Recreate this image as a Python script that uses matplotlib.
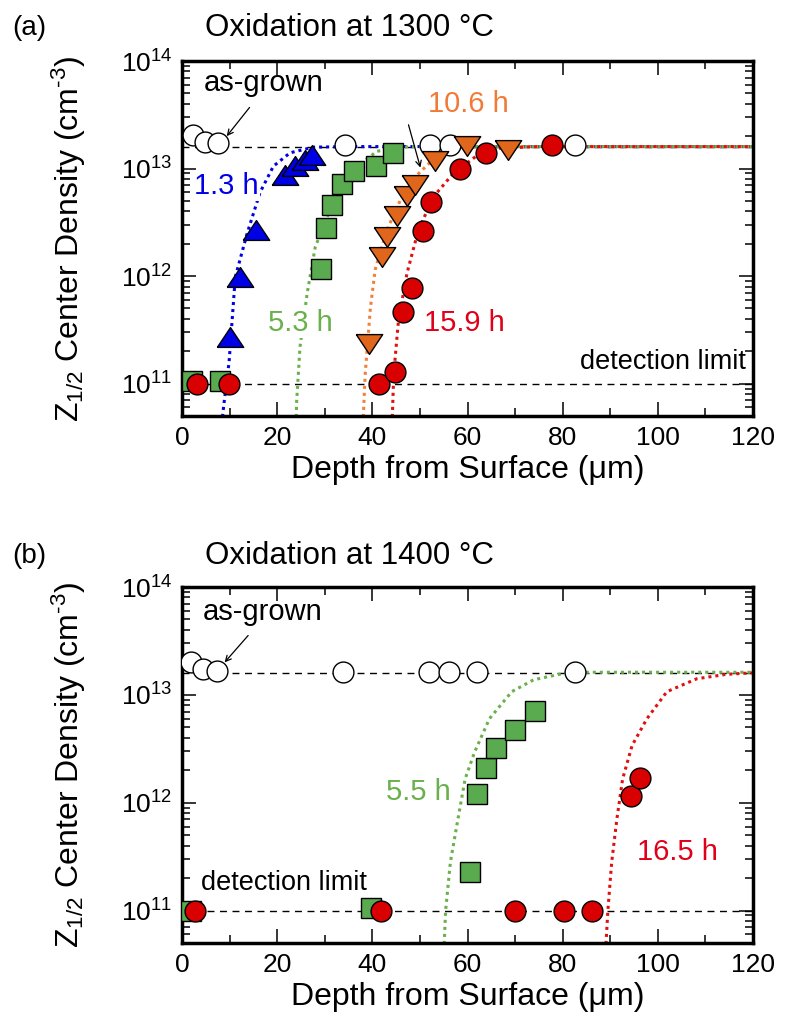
import numpy as np
import matplotlib
matplotlib.use('Agg')
import matplotlib.pyplot as plt
from matplotlib.ticker import LogLocator, MultipleLocator, NullFormatter

plt.rcParams['font.family'] = ['Liberation Sans', 'DejaVu Sans']
plt.rcParams['mathtext.fontset'] = 'custom'
plt.rcParams['mathtext.rm'] = 'Liberation Sans'
plt.rcParams['mathtext.it'] = 'Liberation Sans:italic'
plt.rcParams['mathtext.bf'] = 'Liberation Sans:bold'

# ---- data, panel (a): oxidation at 1300 C ----
grown_a_x = [2.3, 4.8, 7.6, 34.3, 52.2, 56.3, 82.6]
grown_a_y = [2.05e13, 1.78e13, 1.72e13, 1.65e13, 1.65e13, 1.65e13, 1.65e13]

h13_x = [10.0, 12.2, 15.6, 21.7, 23.8, 25.9, 27.4]
h13_y = [2.7e11, 9.8e11, 2.7e12, 8.8e12, 1.05e13, 1.2e13, 1.35e13]

h53_x = [2.0, 7.9, 29.3, 30.3, 31.5, 33.7, 36.1, 40.8, 44.3]
h53_y = [1.06e11, 1.06e11, 1.16e12, 2.8e12, 4.6e12, 7.2e12, 9.4e12, 1.06e13, 1.4e13]

h106_x = [39.2, 42.0, 43.1, 45.2, 47.3, 48.9, 53.1, 59.8, 68.6]
h106_y = [2.35e11, 1.52e12, 2.3e12, 3.6e12, 5.5e12, 7.1e12, 1.17e13, 1.63e13, 1.5e13]

h159_x = [3.1, 9.8, 41.3, 44.8, 46.4, 48.4, 50.6, 52.4, 58.4, 63.9, 77.7]
h159_y = [1.0e11, 1.0e11, 1.0e11, 1.27e11, 4.6e11, 7.8e11, 2.6e12, 4.9e12, 9.9e12, 1.4e13, 1.67e13]

# fitted profiles
fit13_x = [8.5, 8.9, 9.9, 11.2, 13.7, 16.4, 19.2, 22.7, 27.6, 35.0, 120]
fit13_y = [4.9e10, 7e10, 1.6e11, 9.8e11, 2.5e12, 6.0e12, 1.05e13, 1.4e13, 1.58e13, 1.6e13, 1.6e13]
fit53_x = [24.0, 24.1, 24.8, 26.3, 28.0, 30.5, 33.3, 36.8, 41.0, 48.0, 120]
fit53_y = [4.9e10, 6.9e10, 2.2e11, 6.9e11, 1.86e12, 3.55e12, 6.8e12, 1.05e13, 1.45e13, 1.6e13, 1.6e13]
fit106_x = [38.1, 38.5, 39.6, 40.6, 43.1, 45.9, 49.4, 53.6, 58.5, 65.0, 120]
fit106_y = [4.9e10, 1.23e11, 5.1e11, 1.15e12, 2.7e12, 5.1e12, 8.7e12, 1.32e13, 1.58e13, 1.6e13, 1.6e13]
fit159_x = [44.2, 44.5, 45.5, 47.3, 49.7, 52.9, 57.1, 62.0, 66.9, 75.0, 120]
fit159_y = [4.9e10, 1.23e11, 3.9e11, 1.07e12, 2.7e12, 5.5e12, 9.1e12, 1.32e13, 1.55e13, 1.6e13, 1.6e13]

# ---- data, panel (b): oxidation at 1400 C ----
grown_b_x = [1.9, 4.5, 7.4, 33.9, 52.0, 56.2, 61.9, 82.5]
grown_b_y = [2.02e13, 1.73e13, 1.66e13, 1.64e13, 1.64e13, 1.64e13, 1.64e13, 1.62e13]

h55_x = [1.9, 39.8, 60.5, 61.9, 63.8, 65.9, 70.0, 74.1]
h55_y = [1.0e11, 1.05e11, 2.3e11, 1.2e12, 2.1e12, 3.2e12, 4.7e12, 7.1e12]

h165_x = [2.7, 41.9, 70.0, 80.3, 86.2, 94.3, 96.3]
h165_y = [1.0e11, 1.0e11, 1.0e11, 1.0e11, 1.0e11, 1.15e12, 1.7e12]

fit55_x = [55.1, 55.4, 56.4, 58.0, 59.5, 61.5, 64.6, 69.3, 73.9, 80.2, 84.8, 120]
fit55_y = [4.9e10, 1.0e11, 2.8e11, 7.1e11, 1.66e12, 2.95e12, 6.0e12, 1.07e13, 1.38e13, 1.58e13, 1.62e13, 1.62e13]
fit165_x = [89.1, 89.5, 90.3, 91.4, 92.6, 94.6, 97.7, 101.9, 108.2, 114.4, 120]
fit165_y = [4.9e10, 1.0e11, 2.8e11, 7.1e11, 1.66e12, 3.4e12, 6.0e12, 1.07e13, 1.41e13, 1.55e13, 1.6e13]

as_grown_level = 1.6e13
detect_limit = 1.0e11

blue = '#0000e6'
green = '#5aab50'
orange = '#e0661c'
red = '#d80000'
txt_green = '#6ab04c'
txt_orange = '#f07a36'
txt_red = '#e0001a'

# wide, flat triangles like the original symbols
tri_up = [(-1, -0.75), (1, -0.75), (0, 0.75), (-1, -0.75)]
tri_down = [(-1, 0.75), (1, 0.75), (0, -0.75), (-1, 0.75)]

W, H = 785, 1023
fig = plt.figure(figsize=(W / 100, H / 100), dpi=100)
ax1 = fig.add_axes([182 / W, 1 - 416 / H, 571 / W, 355 / H])
ax2 = fig.add_axes([182 / W, 1 - 943 / H, 571 / W, 356 / H])


def style_axes(ax):
    ax.set_yscale('log')
    ax.set_xlim(0, 120)
    ax.set_ylim(5e10, 1e14)
    ax.xaxis.set_major_locator(MultipleLocator(20))
    ax.xaxis.set_minor_locator(MultipleLocator(10))
    ax.yaxis.set_major_locator(LogLocator(base=10, numticks=10))
    ax.yaxis.set_minor_locator(LogLocator(base=10, subs=np.arange(2, 10), numticks=20))
    ax.yaxis.set_minor_formatter(NullFormatter())
    ax.tick_params(which='both', direction='in', top=True, right=True, width=1.1)
    ax.tick_params(which='major', length=10, labelsize=19, pad=7)
    ax.tick_params(which='minor', length=6)
    for s in ax.spines.values():
        s.set_linewidth(2.5)
    ax.set_xlabel('Depth from Surface (μm)', fontsize=23, labelpad=4)
    ax.set_ylabel('Z$_{1/2}$ Center Density (cm$^{\\text{-}3}$)', fontsize=23)
    ax.yaxis.set_label_coords(-0.165, 0.5)
    ax.axhline(as_grown_level, color='k', lw=1.0, ls=(0, (5, 4)), zorder=1)
    ax.axhline(detect_limit, color='k', lw=1.0, ls=(0, (5, 4)), zorder=1)


style_axes(ax1)
style_axes(ax2)

mk = dict(ls='none', mec='k', mew=1.0, zorder=5)
fitkw = dict(ls=(0, (1, 1.3)), lw=2.2, zorder=2)
arrow = dict(arrowstyle='->', color='k', lw=0.9, shrinkA=0, shrinkB=0)
wb = dict(facecolor='white', edgecolor='none', pad=1)

# panel (a)
ax1.plot(fit13_x, fit13_y, color=blue, **fitkw)
ax1.plot(fit53_x, fit53_y, color=txt_green, **fitkw)
ax1.plot(fit106_x, fit106_y, color='#f0803a', **fitkw)
ax1.plot(fit159_x, fit159_y, color='#e01010', **fitkw)
ax1.plot(grown_a_x, grown_a_y, marker='o', ms=15, mfc='white', **mk)
ax1.plot(h53_x, h53_y, marker='s', ms=15, mfc=green, **mk)
ax1.plot(h13_x, h13_y, marker=tri_up, ms=19, mfc=blue, **mk)
ax1.plot(h106_x, h106_y, marker=tri_down, ms=19, mfc=orange, **mk)
ax1.plot(h159_x, h159_y, marker='o', ms=15, mfc=red, **mk)

ax1.text(17.1, 6.3e13, 'as-grown', fontsize=21, ha='center', va='center', zorder=6)
ax1.annotate('', xy=(9.4, 2.0e13), xytext=(14.2, 3.7e13), arrowprops=arrow, zorder=6)
ax1.text(60.2, 4.0e13, '10.6 h', fontsize=21, color=txt_orange, ha='center', va='center',
         zorder=6)
ax1.annotate('', xy=(50.1, 1.02e13), xytext=(47.6, 2.55e13), arrowprops=arrow, zorder=6)
ax1.text(9.3, 6.9e12, '1.3 h', color=blue, fontsize=21, ha='center', va='center',
         zorder=6, bbox=wb)
ax1.text(24.8, 3.7e11, '5.3 h', color=txt_green, fontsize=21, ha='center', va='center',
         zorder=6, bbox=wb)
ax1.text(59.4, 3.7e11, '15.9 h', color=txt_red, fontsize=21, ha='center', va='center',
         zorder=6)
ax1.text(118.5, 1.6e11, 'detection limit', fontsize=19.5, ha='right', va='center', zorder=6)

# panel (b)
ax2.plot(fit55_x, fit55_y, color=txt_green, **fitkw)
ax2.plot(fit165_x, fit165_y, color='#e01010', **fitkw)
ax2.plot(grown_b_x, grown_b_y, marker='o', ms=15, mfc='white', **mk)
ax2.plot(h55_x, h55_y, marker='s', ms=15, mfc=green, **mk)
ax2.plot(h165_x, h165_y, marker='o', ms=15, mfc=red, **mk)

ax2.text(16.9, 5.9e13, 'as-grown', fontsize=21, ha='center', va='center', zorder=6)
ax2.annotate('', xy=(8.95, 2.0e13), xytext=(13.9, 3.55e13), arrowprops=arrow, zorder=6)
ax2.text(49.6, 1.26e12, '5.5 h', color=txt_green, fontsize=21, ha='center', va='center',
         zorder=6)
ax2.text(104.1, 3.5e11, '16.5 h', color=txt_red, fontsize=21, ha='center', va='center',
         zorder=6)
ax2.text(21.4, 1.8e11, 'detection limit', fontsize=19.5, ha='center', va='center', zorder=6)

fig.text(12 / W, 1 - 28 / H, '(a)', fontsize=20, va='center', ha='left')
fig.text(205 / W, 1 - 28 / H, 'Oxidation at 1300 °C', fontsize=22.5, va='center', ha='left')
fig.text(12 / W, 1 - 556 / H, '(b)', fontsize=20, va='center', ha='left')
fig.text(205 / W, 1 - 556 / H, 'Oxidation at 1400 °C', fontsize=22.5, va='center', ha='left')

fig.savefig('out.png', dpi=100)
